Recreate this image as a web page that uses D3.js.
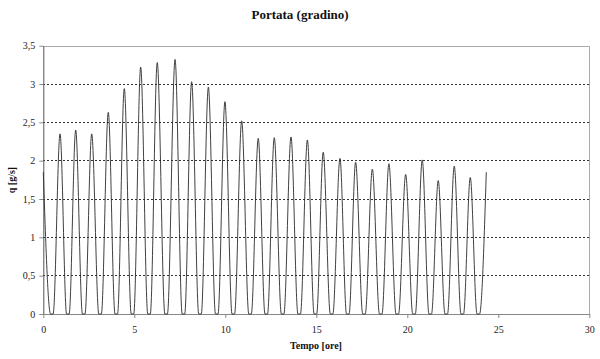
<!DOCTYPE html>
<html>
<head>
<meta charset="utf-8">
<script src="https://cdn.jsdelivr.net/npm/d3@7"></script>
<style>
  html, body { margin: 0; padding: 0; background: #fff; }
  svg { display: block; }
</style>
</head>
<body>
<svg id="chart" width="600" height="359"></svg>
<script>
// ---- data ----
const startPoint = [0, 1.85];
const endPoint = [24.34, 1.85];
const peakTimes = [0.92, 1.78, 2.66, 3.57, 4.45, 5.35, 6.26, 7.24, 8.15, 9.07, 9.98, 10.90, 11.81,
  12.69, 13.61, 14.51, 15.38, 16.30, 17.16, 18.08, 18.99, 19.91, 20.82, 21.70, 22.58, 23.46];
const peakValues = [2.35, 2.40, 2.35, 2.63, 2.94, 3.22, 3.28, 3.32, 3.03, 2.96, 2.77, 2.52, 2.29,
  2.30, 2.31, 2.27, 2.11, 2.03, 1.98, 1.89, 1.96, 1.82, 2.01, 1.74, 1.93, 1.78];
const troughTimes = [0.47, 1.35, 2.22, 3.12, 4.01, 4.90, 5.81, 6.75, 7.70, 8.61, 9.53, 10.44, 11.36,
  12.25, 13.15, 14.06, 14.95, 15.84, 16.73, 17.62, 18.54, 19.45, 20.37, 21.26, 22.14, 23.02, 23.90];
const troughHalfWidth = 0.07;
const xTicks = [0, 5, 10, 15, 20, 25, 30];
const yTicks = [0, 0.5, 1, 1.5, 2, 2.5, 3, 3.5];
const titleText = "Portata (gradino)";
const xLabel = "Tempo [ore]";
const yLabel = "q [g/s]";

// ---- build the series ----
const pts = [startPoint];
troughTimes.forEach((t, i) => {
  pts.push([t - troughHalfWidth, 0]);
  pts.push([t + troughHalfWidth, 0]);
  if (i < peakTimes.length) pts.push([peakTimes[i], peakValues[i]]);
});
pts.push(endPoint);

// ---- layout ----
const svg = d3.select("#chart");
const M = { left: 43.3, right: 589.3, top: 45.7, bottom: 314 };
const x = d3.scaleLinear().domain([0, 30]).range([M.left, M.right]);
const y = d3.scaleLinear().domain([0, 3.5]).range([M.bottom, M.top]);
const fmt = d => String(d).replace(".", ",");
const serif = "'Liberation Serif', 'Times New Roman', serif";

// gridlines
svg.append("g").selectAll("line").data(yTicks.filter(d => d > 0 && d < 3.5)).join("line")
  .attr("x1", M.left).attr("x2", M.right)
  .attr("y1", d => y(d)).attr("y2", d => y(d))
  .attr("stroke", "#333").attr("stroke-width", 1)
  .attr("stroke-dasharray", "2,2")
  .attr("shape-rendering", "crispEdges");

// plot frame (top / right)
svg.append("path")
  .attr("d", `M${M.left},${Math.round(M.top)+0.5}H${Math.round(M.right)+0.5}V${M.bottom}`)
  .attr("fill", "none").attr("stroke", "#aaa").attr("stroke-width", 1);

// axes
const xAxis = d3.axisBottom(x).tickValues(xTicks).tickFormat(fmt).tickSize(4).tickSizeOuter(0);
const yAxis = d3.axisLeft(y).tickValues(yTicks).tickFormat(fmt).tickSize(4).tickSizeOuter(0);

const gx = svg.append("g").attr("transform", `translate(0,${M.bottom})`).call(xAxis)
  .attr("font-family", serif);
const gy = svg.append("g").attr("transform", `translate(${M.left},0)`).call(yAxis)
  .attr("font-family", serif);
[gx, gy].forEach(g => {
  g.select(".domain").attr("stroke", "#888");
  g.selectAll(".tick line").attr("stroke", "#888");
  g.selectAll(".tick text").attr("font-family", serif).attr("font-size", 10).attr("fill", "#222");
});
gy.select(".domain").attr("stroke", "#555");
gx.selectAll(".tick text").attr("dy", "1.15em");
gy.selectAll(".tick text").attr("x", -8);

// series line
const line = d3.line().x(d => x(d[0])).y(d => y(d[1])).curve(d3.curveMonotoneX);
svg.append("path").datum(pts)
  .attr("d", line)
  .attr("fill", "none").attr("stroke", "#2a2a2a").attr("stroke-width", 0.9);

// title & labels
svg.append("text").attr("x", 300).attr("y", 19).attr("text-anchor", "middle")
  .attr("font-family", serif).attr("font-weight", "bold").attr("font-size", 13)
  .attr("fill", "#111").text(titleText);
svg.append("text").attr("x", 316).attr("y", 349).attr("text-anchor", "middle")
  .attr("font-family", serif).attr("font-weight", "bold").attr("font-size", 10)
  .attr("fill", "#111").text(xLabel);
svg.append("text").attr("transform", "translate(15,180) rotate(-90)").attr("text-anchor", "middle")
  .attr("font-family", serif).attr("font-weight", "bold").attr("font-size", 10)
  .attr("fill", "#111").text(yLabel);
</script>
</body>
</html>
